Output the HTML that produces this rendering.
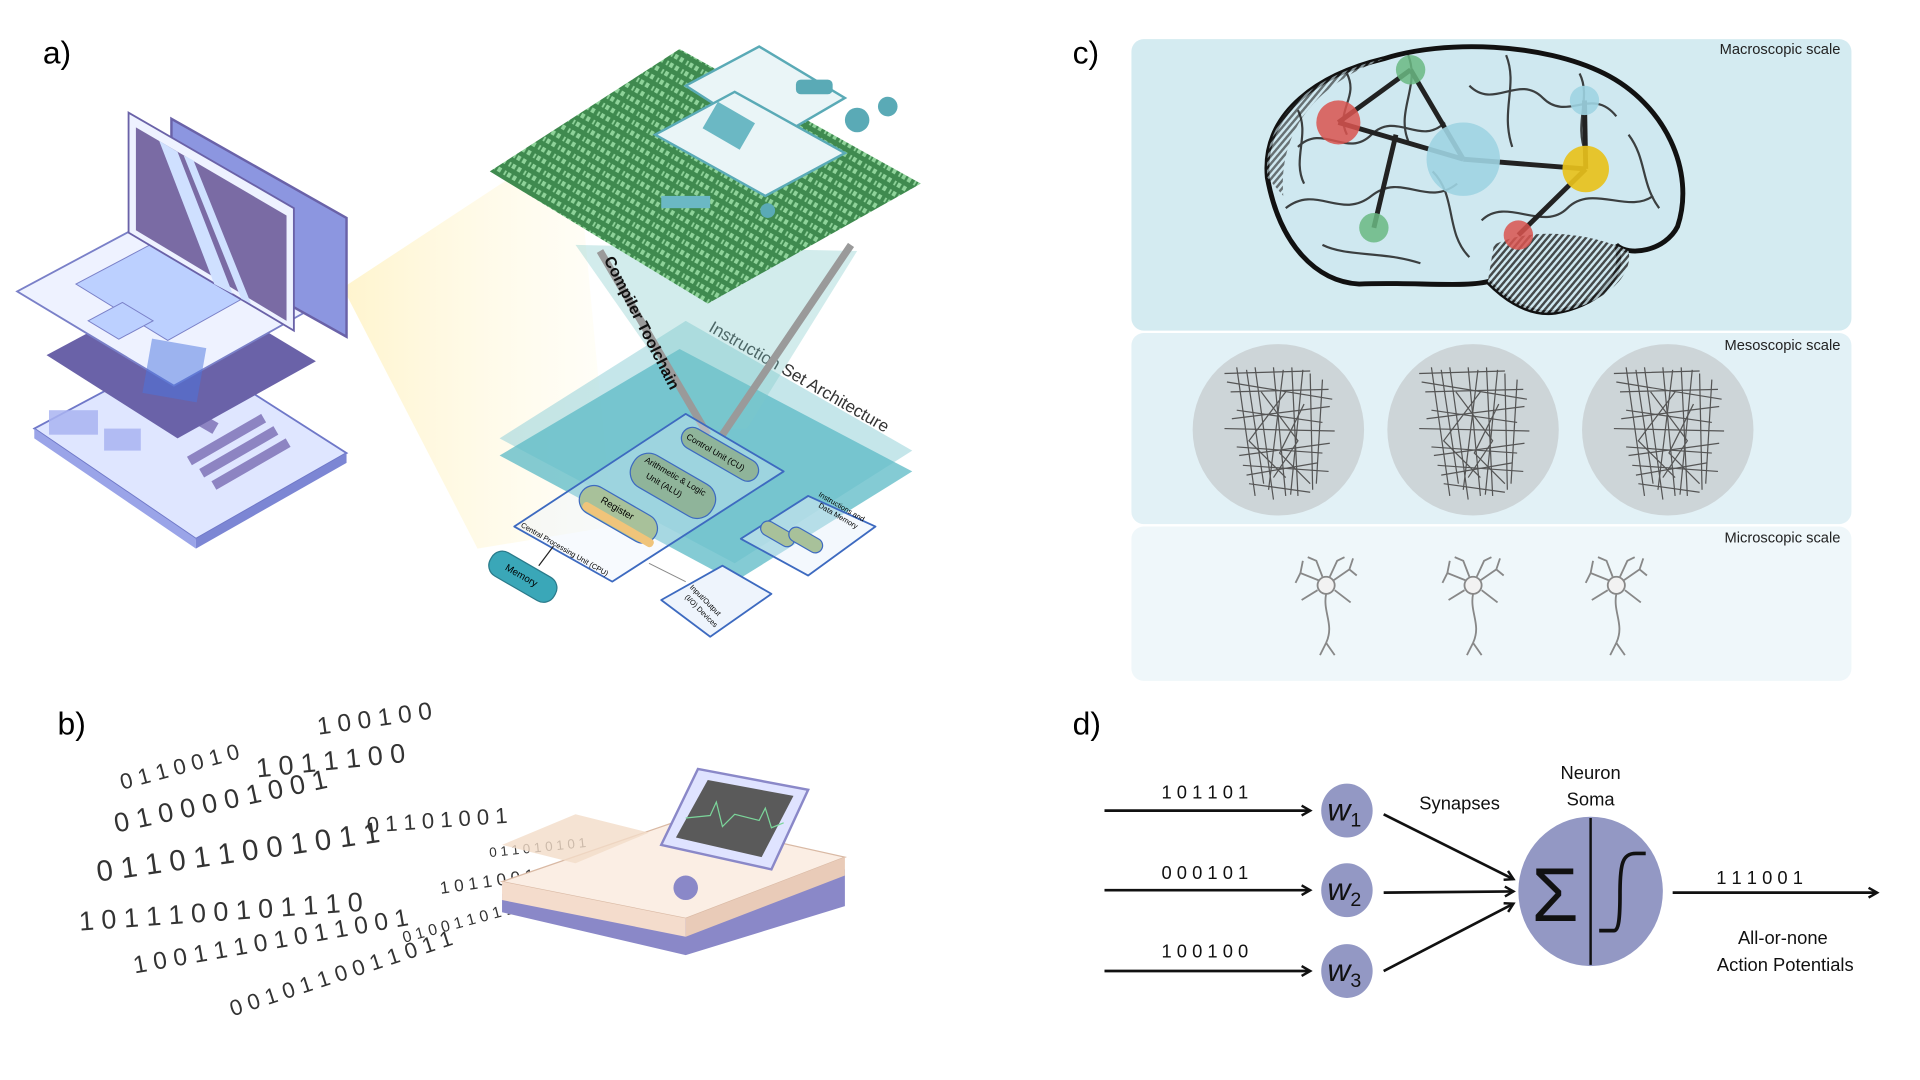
<!DOCTYPE html>
<html><head><meta charset="utf-8">
<style>
html,body{margin:0;padding:0;background:#fff;}
svg{display:block;}
text{font-family:"Liberation Sans",sans-serif;}
</style></head>
<body>
<svg width="1920" height="1080" viewBox="0 0 1568 882" preserveAspectRatio="none" xmlns="http://www.w3.org/2000/svg">
<defs>
<linearGradient id="glow" x1="0" y1="0" x2="1" y2="0">
<stop offset="0" stop-color="#fff3c8" stop-opacity="0.9"/>
<stop offset="1" stop-color="#fffbe8" stop-opacity="0.3"/>
</linearGradient>
<pattern id="bin" width="14" height="8" patternUnits="userSpaceOnUse" patternTransform="rotate(30)">
<rect width="14" height="8" fill="#3f8a4f"/>
<rect x="1" y="2" width="3" height="4" fill="#8fd39a"/>
<rect x="7" y="2" width="1.5" height="4" fill="#8fd39a"/>
<rect x="10" y="2" width="3" height="4" fill="#8fd39a"/>
</pattern>
<pattern id="hatch" width="4" height="4" patternUnits="userSpaceOnUse" patternTransform="rotate(40)">
<rect width="4" height="4" fill="#cfe8f0"/>
<rect width="2" height="4" fill="#222"/>
</pattern>
<marker id="ah" markerWidth="10" markerHeight="10" refX="8" refY="5" orient="auto" markerUnits="userSpaceOnUse">
<path d="M1,1 L8,5 L1,9" fill="none" stroke="#111" stroke-width="2"/>
</marker>
</defs>

<!-- labels -->
<text x="35" y="52" font-size="26">a)</text>
<text x="47" y="600" font-size="26">b)</text>
<text x="876" y="52" font-size="26">c)</text>
<text x="876" y="600" font-size="26">d)</text>

<!-- ===== panel a ===== -->
<polygon points="280,235 470,110 500,430 390,448" fill="url(#glow)"/>
<polygon points="28,350 150,285 283,370 160,440" fill="#dfe6ff" stroke="#6f78c8" stroke-width="1.5"/>
<polygon points="28,350 160,440 160,448 28,358" fill="#9aa4e8"/>
<polygon points="160,440 283,370 283,378 160,448" fill="#7c86d4"/>
<g fill="#7f73b8" opacity="0.85">
<rect x="120" y="330" width="60" height="10" transform="rotate(30 150 335)"/>
<rect x="150" y="355" width="70" height="8" transform="rotate(-30 185 359)"/>
<rect x="160" y="365" width="70" height="8" transform="rotate(-30 195 369)"/>
<rect x="170" y="375" width="70" height="8" transform="rotate(-30 205 379)"/>
<rect x="40" y="335" width="40" height="20" fill="#aab4f2"/>
<rect x="85" y="350" width="30" height="18" fill="#aab4f2"/>
</g>
<polygon points="38,290 150,230 258,295 145,358" fill="#6a62a8"/>
<polygon points="14,238 130,176 258,250 142,315" fill="#eef2ff" stroke="#7a80c8" stroke-width="1.5"/>
<g fill="#bcd0ff" stroke="#7a80c8" stroke-width="0.8">
<polygon points="62,232 130,196 205,240 137,278"/>
<polygon points="72,262 100,247 125,262 97,277"/>
</g>
<rect x="120" y="280" width="45" height="45" fill="#4a74e0" opacity="0.5" transform="rotate(10 142 302)"/>
<polygon points="140,97 283,178 283,275 140,195" fill="#8c96e0" stroke="#6a62a8" stroke-width="2"/>
<polygon points="105,92 240,170 240,270 105,190" fill="#eef2ff" stroke="#6a62a8" stroke-width="1.5"/>
<polygon points="111,104 234,176 234,262 111,188" fill="#7a6ba4"/>
<polygon points="130,115 145,124 190,240 175,232" fill="#cfe0ff"/>
<polygon points="150,127 158,131 205,248 197,244" fill="#cfe0ff"/>

<polygon points="408,358 560,262 745,368 600,460" fill="#9fd6dc" opacity="0.6"/>
<polygon points="408,372 555,285 745,385 600,475" fill="#5bb9c6" opacity="0.75"/>
<text x="578" y="270" font-size="14" fill="#333" transform="rotate(30 578 270)">Instruction Set Architecture</text>
<polygon points="470,200 700,205 610,350 575,350" fill="#7fc9c9" opacity="0.35"/>
<line x1="490" y1="205" x2="578" y2="355" stroke="#9a9a9a" stroke-width="6"/>
<line x1="695" y1="200" x2="590" y2="355" stroke="#9a9a9a" stroke-width="6"/>
<text x="493" y="212" font-size="13" font-weight="bold" fill="#111" transform="rotate(63 493 212)">Compiler Toolchain</text>

<polygon points="400,140 555,40 752,150 578,248" fill="url(#bin)"/>
<g fill="#eaf5f7" stroke="#5aaab6" stroke-width="2">
<polygon points="560,70 620,38 690,80 630,115"/>
<polygon points="535,110 600,75 690,125 625,160"/>
</g>
<rect x="578" y="90" width="35" height="25" fill="#6bb8c4" transform="rotate(30 595 102)"/>
<circle cx="725" cy="87" r="8" fill="#5aaab6"/>
<circle cx="700" cy="98" r="10" fill="#5aaab6"/>
<rect x="650" y="65" width="30" height="12" rx="4" fill="#5aaab6"/>
<rect x="540" y="160" width="40" height="10" fill="#6bb8c4"/>
<circle cx="627" cy="172" r="6" fill="#5aaab6"/>

<polygon points="420,430 560,338 640,385 500,475" fill="#e8f1fb" fill-opacity="0.35" stroke="#3d6ac0" stroke-width="1.5" stroke-linejoin="round"/>
<rect x="553" y="362" width="70" height="18" rx="9" fill="#8fb49a" stroke="#3d6ac0" transform="rotate(30 588 371)"/>
<text x="560" y="358" font-size="7" transform="rotate(30 560 358)">Control Unit (CU)</text>
<rect x="512" y="382" width="75" height="30" rx="14" fill="#8fb49a" stroke="#3d6ac0" transform="rotate(30 550 397)"/>
<text x="526" y="377" font-size="7" transform="rotate(30 526 377)">Arithmetic &amp; Logic</text>
<text x="527" y="390" font-size="7" transform="rotate(30 527 390)">Unit (ALU)</text>
<rect x="470" y="408" width="70" height="24" rx="12" fill="#a8c19a" stroke="#3d6ac0" transform="rotate(30 505 420)"/>
<rect x="472" y="425" width="66" height="7" rx="3" fill="#f0c47a" transform="rotate(30 505 428)"/>
<text x="490" y="410" font-size="8" transform="rotate(30 490 410)">Register</text>
<text x="425" y="430" font-size="6" transform="rotate(30 425 430)">Central Processing Unit (CPU)</text>
<rect x="397" y="460" width="60" height="22" rx="10" fill="#3aa7b8" stroke="#2a7a8a" transform="rotate(30 427 471)"/>
<text x="412" y="465" font-size="8" transform="rotate(30 412 465)">Memory</text>
<line x1="440" y1="462" x2="452" y2="446" stroke="#222" stroke-width="1"/>
<polygon points="605,440 660,405 715,430 660,470" fill="#e8f1fb" fill-opacity="0.5" stroke="#3d6ac0" stroke-width="1.5" stroke-linejoin="round"/>
<rect x="620" y="430" width="30" height="12" rx="6" fill="#a8c19a" stroke="#3d6ac0" transform="rotate(30 635 436)"/>
<rect x="643" y="435" width="30" height="12" rx="6" fill="#a8c19a" stroke="#3d6ac0" transform="rotate(30 658 441)"/>
<text x="668" y="405" font-size="6" transform="rotate(30 668 405)">Instructions and</text>
<text x="668" y="414" font-size="6" transform="rotate(30 668 414)">Data Memory</text>
<polygon points="540,490 590,462 630,485 580,520" fill="#eef4fc" stroke="#3d6ac0" stroke-width="1.5" stroke-linejoin="round"/>
<text x="563" y="480" font-size="6" transform="rotate(45 563 480)">Input/Output</text>
<text x="559" y="488" font-size="6" transform="rotate(45 559 488)">(I/O) Devices</text>
<line x1="530" y1="460" x2="560" y2="475" stroke="#888" stroke-width="0.8"/>

<!-- ===== panel b ===== -->
<g fill="#333" font-family="Liberation Serif,serif">
<text x="100" y="645" font-size="18" transform="rotate(-15 100 645)">0 1 1 0 0 1 0</text>
<text x="95" y="680" font-size="22" transform="rotate(-12 95 680)">0 1 0 0 0 0 1 0 0 1</text>
<text x="80" y="720" font-size="24" transform="rotate(-8 80 720)">0 1 1 0 1 1 0 0 1 0 1 1</text>
<text x="65" y="760" font-size="22" transform="rotate(-4 65 760)">1 0 1 1 1 0 0 1 0 1 1 1 0</text>
<text x="110" y="795" font-size="20" transform="rotate(-10 110 795)">1 0 0 1 1 1 0 1 0 1 1 0 0 1</text>
<text x="190" y="830" font-size="18" transform="rotate(-18 190 830)">0 0 1 0 1 1 0 0 1 1 0 1 1</text>
<text x="260" y="600" font-size="20" transform="rotate(-8 260 600)">1 0 0 1 0 0</text>
<text x="210" y="635" font-size="22" transform="rotate(-6 210 635)">1 0 1 1 1 0 0</text>
<text x="300" y="680" font-size="18" transform="rotate(-4 300 680)">0 1 1 0 1 0 0 1</text>
<text x="360" y="730" font-size="14" transform="rotate(-8 360 730)">1 0 1 1 0 0 1 0 1 1</text>
<text x="330" y="770" font-size="13" transform="rotate(-15 330 770)">0 1 0 0 1 1 0 1 1 0 1</text>
<text x="400" y="700" font-size="11" transform="rotate(-6 400 700)">0 1 1 0 1 0 1 0 1</text>
</g>
<polygon points="410,730 560,680 690,710 690,740 560,780 410,745" fill="#8a88c8"/>
<polygon points="410,720 555,670 690,700 560,750" fill="#fbeee4" stroke="#d9b9a4"/>
<polygon points="410,720 560,750 560,765 410,735" fill="#f4dccc"/>
<polygon points="560,750 690,700 690,715 560,765" fill="#e9cbb8"/>
<polygon points="410,690 470,665 530,680 470,705" fill="#f2dcc8" opacity="0.8"/>
<polygon points="540,690 570,628 660,645 630,710" fill="#dfe3ff" stroke="#8a88c8" stroke-width="2"/>
<polygon points="552,684 578,637 648,650 622,700" fill="#5a5a5a"/>
<polyline points="560,668 580,666 585,655 590,675 600,665 620,670 625,660 630,676 640,672" fill="none" stroke="#7bd59a" stroke-width="1"/>
<circle cx="560" cy="725" r="10" fill="#8a88c8"/>

<!-- ===== panel c ===== -->
<rect x="924" y="32" width="588" height="238" rx="10" fill="#d4ebf1"/>
<rect x="924" y="272" width="588" height="156" rx="10" fill="#e2f1f6"/>
<rect x="924" y="430" width="588" height="126" rx="10" fill="#eff7fa"/>
<text x="1503" y="44" font-size="12" text-anchor="end" fill="#222">Macroscopic scale</text>
<text x="1503" y="286" font-size="12" text-anchor="end" fill="#222">Mesoscopic scale</text>
<text x="1503" y="443" font-size="12" text-anchor="end" fill="#222">Microscopic scale</text>
<!-- brain -->
<path d="M1035,145 C1030,90 1080,60 1130,48 C1180,32 1260,35 1310,60 C1360,85 1385,140 1370,185 C1360,205 1330,210 1320,200 C1330,230 1300,250 1270,255 C1245,258 1225,240 1215,230 C1195,235 1150,230 1110,232 C1075,230 1045,200 1035,145 Z" fill="#cfe8f0" stroke="#111" stroke-width="4"/>
<path d="M1220,200 C1250,185 1300,190 1330,205 C1335,230 1300,252 1270,255 C1245,258 1225,240 1215,230 Z" fill="url(#hatch)" opacity="0.8"/>
<path d="M1035,145 C1030,90 1080,60 1130,48 C1060,75 1045,120 1048,160 Z" fill="url(#hatch)" opacity="0.6"/>
<g fill="none" stroke="#222" stroke-width="1.8" opacity="0.85">
<path d="M1060,120 C1080,100 1100,130 1120,110 C1140,90 1160,120 1180,100"/>
<path d="M1050,170 C1075,150 1095,180 1120,160 C1145,140 1165,170 1190,150"/>
<path d="M1200,70 C1220,90 1240,60 1260,80 C1280,100 1300,70 1320,95"/>
<path d="M1210,180 C1230,160 1260,190 1280,170 C1300,150 1330,175 1350,160"/>
<path d="M1100,60 C1110,80 1090,90 1100,110 M1150,45 C1160,70 1140,90 1150,115"/>
<path d="M1230,45 C1240,70 1225,90 1235,120 M1290,60 C1300,80 1285,100 1295,125"/>
<path d="M1080,200 C1100,210 1130,205 1160,215 M1330,110 C1345,130 1340,150 1355,170"/>
<path d="M1060,90 C1070,110 1055,130 1065,150 M1170,140 C1190,160 1180,190 1200,210"/>
</g>
<g stroke="#222" stroke-width="4" fill="none">
<line x1="1093" y1="100" x2="1152" y2="57"/>
<line x1="1152" y1="57" x2="1195" y2="130"/>
<line x1="1093" y1="100" x2="1195" y2="130"/>
<line x1="1195" y1="130" x2="1295" y2="138"/>
<line x1="1294" y1="82" x2="1295" y2="138"/>
<line x1="1295" y1="138" x2="1240" y2="192"/>
<line x1="1140" y1="110" x2="1122" y2="186"/>
</g>
<circle cx="1152" cy="57" r="12" fill="#6ab882" opacity="0.85"/>
<circle cx="1093" cy="100" r="18" fill="#d9534f" opacity="0.85"/>
<circle cx="1195" cy="130" r="30" fill="#9fd4e2" opacity="0.9"/>
<circle cx="1294" cy="82" r="12" fill="#9fd4e2" opacity="0.9"/>
<circle cx="1295" cy="138" r="19" fill="#e8c11c" opacity="0.92"/>
<circle cx="1122" cy="186" r="12" fill="#6ab882" opacity="0.85"/>
<circle cx="1240" cy="192" r="12" fill="#d9534f" opacity="0.85"/>
<!-- meso circles -->
<ellipse cx="1044" cy="351" rx="70" ry="70" fill="#cdd5d8"/>
<ellipse cx="1203" cy="351" rx="70" ry="70" fill="#cdd5d8"/>
<ellipse cx="1362" cy="351" rx="70" ry="70" fill="#cdd5d8"/>
<g id="tree" fill="none" stroke="#555" stroke-width="1">
<path d="M1000,305 L1070,303 M1005,320 L1085,318 M1010,335 L1080,345 M1000,350 L1090,352 M1010,365 L1080,370 M1015,380 L1085,385 M1020,395 L1070,402"/>
<path d="M1010,300 L1025,405 M1025,300 L1040,408 M1040,300 L1050,405 M1055,300 L1060,405 M1070,305 L1072,400 M1080,310 L1075,395"/>
<path d="M1030,320 L1060,360 L1040,390 M1050,320 L1020,360 L1050,390 M1065,330 L1045,370 L1070,395"/>
<path d="M1002,312 L1088,326 M1006,342 L1086,332 M1012,372 L1086,362 M1018,388 L1076,378 M1018,302 L1032,395 M1048,302 L1036,400 M1064,302 L1054,404"/>
</g>
<use href="#tree" x="159"/>
<use href="#tree" x="318"/>
<!-- micro neurons -->
<g id="neu" fill="none" stroke="#888" stroke-width="1.5">
<circle cx="1083" cy="478" r="7" fill="#f2f2f2"/>
<path d="M1083,485 C1080,500 1090,510 1083,525 L1078,535 M1083,525 L1090,535"/>
<path d="M1077,474 L1062,468 L1058,476 M1062,468 L1064,458 M1089,474 L1102,465 L1108,470 M1102,465 L1105,456 M1080,471 L1075,458 L1068,455 M1086,471 L1092,458 L1098,455 M1090,482 L1103,492 M1076,482 L1063,490"/>
</g>
<use href="#neu" x="120"/>
<use href="#neu" x="237"/>

<!-- ===== panel d ===== -->
<g stroke="#111" stroke-width="2.2" fill="none" marker-end="url(#ah)">
<line x1="902" y1="662" x2="1070" y2="662"/>
<line x1="902" y1="727" x2="1070" y2="727"/>
<line x1="902" y1="793" x2="1070" y2="793"/>
<line x1="1130" y1="665" x2="1236" y2="718"/>
<line x1="1130" y1="729" x2="1236" y2="728"/>
<line x1="1130" y1="793" x2="1236" y2="738"/>
<line x1="1366" y1="729" x2="1533" y2="729"/>
</g>
<g font-family="Liberation Mono,monospace" font-size="15" fill="#111" text-anchor="middle">
<text x="984" y="652">1 0 1 1 0 1</text>
<text x="984" y="718">0 0 0 1 0 1</text>
<text x="984" y="782">1 0 0 1 0 0</text>
<text x="1437" y="722">1 1 1 0 0 1</text>
</g>
<g fill="#9398c4">
<ellipse cx="1100" cy="662" rx="21" ry="22"/>
<ellipse cx="1100" cy="727" rx="21" ry="22"/>
<ellipse cx="1100" cy="793" rx="21" ry="22"/>
<ellipse cx="1299" cy="728" rx="59" ry="61"/>
</g>
<g font-family="Liberation Serif,serif" font-style="italic" fill="#111">
<text x="1084" y="670" font-size="26">w<tspan font-size="16" dy="5" font-style="normal">1</tspan></text>
<text x="1084" y="735" font-size="26">w<tspan font-size="16" dy="5" font-style="normal">2</tspan></text>
<text x="1084" y="801" font-size="26">w<tspan font-size="16" dy="5" font-style="normal">3</tspan></text>
</g>
<text x="1270" y="752" font-size="62" font-family="Liberation Serif,serif" text-anchor="middle" fill="#111">Σ</text>
<line x1="1299" y1="668" x2="1299" y2="788" stroke="#111" stroke-width="2"/>
<path d="M1306,760 L1318,760 C1322,760 1323,750 1323,730 C1323,705 1325,697 1336,697 L1344,697" fill="none" stroke="#111" stroke-width="3"/>
<g font-size="15" fill="#111" text-anchor="middle">
<text x="1192" y="661">Synapses</text>
<text x="1299" y="636">Neuron</text>
<text x="1299" y="658">Soma</text>
<text x="1456" y="771">All-or-none</text>
<text x="1458" y="793">Action Potentials</text>
</g>
</svg>
</body></html>
